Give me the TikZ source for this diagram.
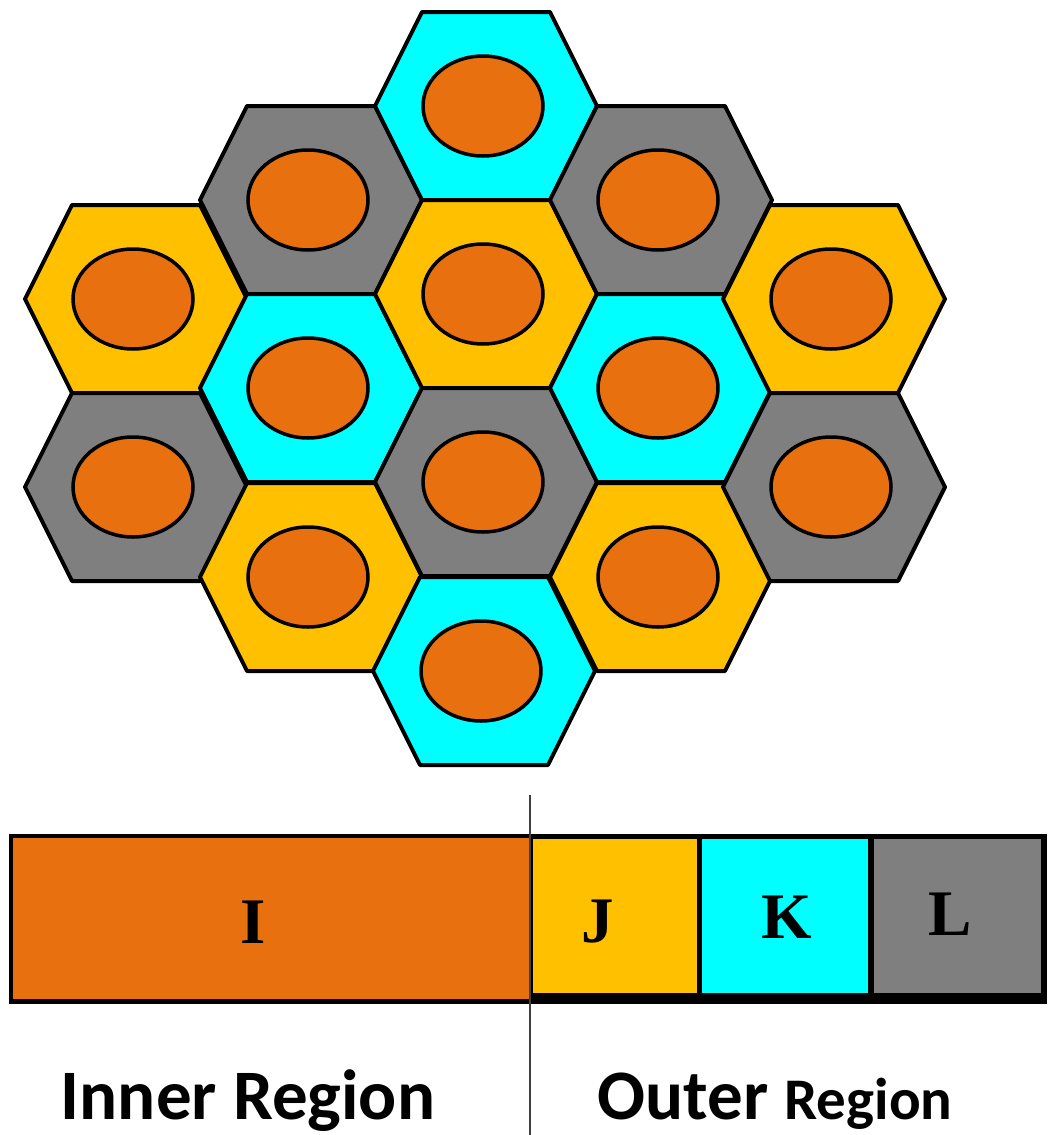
\documentclass[tikz,border=0pt]{standalone}
\usepackage{fontspec}
\setmainfont{Liberation Serif}
\newfontfamily\calib{Carlito}
\definecolor{hcyan}{HTML}{00FFFF}
\definecolor{hyellow}{HTML}{FFC000}
\definecolor{hgray}{HTML}{7F7F7F}
\definecolor{horange}{HTML}{E8700F}
\begin{document}
\begin{tikzpicture}[x=1pt,y=-1pt]
\tikzset{
  hexcell/.style={draw=black, line width=4pt, line join=round},
  fuel/.style={draw=black, line width=3.5pt, fill=horange},
  letter/.style={font=\fontsize{65}{65}\selectfont\bfseries, anchor=base, inner sep=0pt},
  regionlbl/.style={anchor=base, inner sep=0pt}
}
\useasboundingbox (0,0) rectangle (1048,1135);
% hexagons
\foreach \cx/\cy/\col in {
  136/299/hyellow, 136/487/hgray,
  311/200/hgray, 311/388/hcyan, 311/577/hyellow,
  486/106/hcyan, 486/294/hyellow, 486/482/hgray, 484/671/hcyan,
  661/200/hgray, 661/388/hcyan, 661/577/hyellow,
  834/299/hyellow, 834/487/hgray}{
  \filldraw[hexcell, fill=\col] (\cx-111,\cy) -- (\cx-64,\cy-94) -- (\cx+64,\cy-94)
     -- (\cx+111,\cy) -- (\cx+64,\cy+94) -- (\cx-64,\cy+94) -- cycle;
}
\foreach \cx/\cy in {
  136/299, 136/487,
  311/200, 311/388, 311/577,
  486/106, 486/294, 486/482, 484/671,
  661/200, 661/388, 661/577,
  834/299, 834/487}{
  \filldraw[fuel] (\cx-3,\cy) ellipse [x radius=60, y radius=50];
}
% legend bar
\fill[black] (9,834) rectangle (1047,1004);
\fill[horange] (13,838) rectangle (529,999);
\fill[hyellow] (533,839) rectangle (697,993);
\fill[hcyan] (702,839) rectangle (868,993);
\fill[hgray] (874,839) rectangle (1041,993);
\node[letter] (lI) at (253,943) {I};
\node[letter] (lJ) at (598,942) {J};
\node[letter] (lK) at (787,938) {K};
\node[letter] (lL) at (950,935) {L};
% divider
\draw[line width=1.2pt, black!75] (530,795) -- (530,1135);
% region labels
\node[regionlbl] (inner) at (248,1119) {\calib\bfseries\fontsize{71}{71}\selectfont Inner Region};
\node[regionlbl] (outer) at (775,1119) {\calib\bfseries\fontsize{71}{71}\selectfont Outer \fontsize{59}{59}\selectfont Region};
\end{tikzpicture}
\end{document}
